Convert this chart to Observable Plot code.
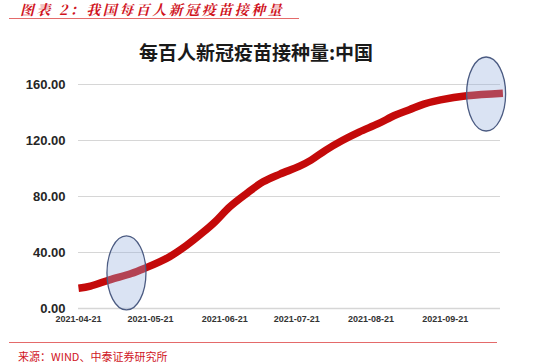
<!DOCTYPE html>
<html>
<head>
<meta charset="utf-8">
<script src="https://cdn.jsdelivr.net/npm/d3@7"></script>
<script src="https://cdn.jsdelivr.net/npm/@observablehq/plot@0.6"></script>
<style>
  html, body { margin: 0; padding: 0; background: #fff; }
  #wrap { position: relative; width: 540px; height: 363px; overflow: hidden; background: #fff; }
  #wrap svg { position: absolute; left: 0; top: 0; }
  .hdr { position: absolute; left: 20px; top: 2px; line-height: 15px; font-family: "Noto Serif CJK SC", "Noto Sans CJK SC", serif; font-style: italic; font-weight: bold; font-size: 14px; letter-spacing: 2.5px; color: #d0141e; white-space: nowrap; }
  .hline { position: absolute; left: 9px; top: 18px; width: 290px; height: 1px; background: #e46a6a; }
  .title { position: absolute; left: 0; width: 512px; top: 38px; text-align: center; font-family: "Noto Sans CJK SC", sans-serif; font-weight: bold; font-size: 19px; color: #1a1a1a; white-space: nowrap; }
  .fline { position: absolute; left: 9px; top: 342px; width: 488px; height: 1px; background: #e46a6a; }
  .src { position: absolute; left: 18px; top: 348px; font-family: "Noto Sans CJK SC", monospace; font-size: 11px; color: #d0141e; white-space: nowrap; }
</style>
</head>
<body>
<div id="wrap">
  <div class="hdr">图表 2：我国每百人新冠疫苗接种量</div>
  <div class="hline"></div>
  <div class="title">每百人新冠疫苗接种量:中国</div>
  <div class="fline"></div>
  <div class="src">来源：WIND、中泰证券研究所</div>
</div>
<script>
// Series: vaccine doses per hundred people, China
const dates = [
  "2021-04-21","2021-04-26","2021-05-04","2021-05-13","2021-05-19","2021-05-25",
  "2021-05-29","2021-06-05","2021-06-12","2021-06-17","2021-06-23","2021-06-30",
  "2021-07-07","2021-07-14","2021-07-22","2021-07-27","2021-08-02","2021-08-09",
  "2021-08-16","2021-08-24","2021-08-31","2021-09-06","2021-09-12","2021-09-19",
  "2021-09-30","2021-10-15"
];
const values = [
  14.5, 16.0, 20.5, 25.0, 29.0, 33.5,
  37.0, 45.0, 54.5, 62.0, 72.5, 82.0,
  90.5, 96.0, 101.5, 106.0, 113.0, 120.0,
  126.0, 132.0, 138.0, 142.0, 146.0, 149.0,
  152.0, 153.8
];
// x tick labels
const xTicks = ["2021-04-21","2021-05-21","2021-06-21","2021-07-21","2021-08-21","2021-09-21"];
// y ticks
const yTicks = [0, 40, 80, 120, 160];
// highlighted regions (annotation ellipses centres)
const markDates = ["2021-05-11", "2021-10-08"];
const markValues = [25.4, 153.2];

const parse = d3.utcParse("%Y-%m-%d");
const series = dates.map((d, i) => ({date: parse(d), value: values[i]}));
const marks = markDates.map((d, i) => ({date: parse(d), value: markValues[i]}));

const ellipse = {
  draw(ctx) {
    const rx = 19.5, ry = 37, k = 0.5523;
    ctx.moveTo(rx, 0);
    ctx.bezierCurveTo(rx, ry * k, rx * k, ry, 0, ry);
    ctx.bezierCurveTo(-rx * k, ry, -rx, ry * k, -rx, 0);
    ctx.bezierCurveTo(-rx, -ry * k, -rx * k, -ry, 0, -ry);
    ctx.bezierCurveTo(rx * k, -ry, rx, -ry * k, rx, 0);
    ctx.closePath();
  }
};

const plot = Plot.plot({
  width: 540,
  height: 363,
  marginTop: 84,
  marginBottom: 55,
  marginLeft: 78,
  marginRight: 40,
  style: {background: "transparent", fontFamily: "'Liberation Sans', Arial, sans-serif"},
  x: {type: "utc", domain: [parse("2021-04-21"), parse("2021-10-14")]},
  y: {domain: [0, 160]},
  marks: [
    Plot.gridY(yTicks, {stroke: "#d6d6d6", strokeOpacity: 1, strokeWidth: 1.2}),
    Plot.ruleY([0], {stroke: "#d6d6d6", strokeWidth: 1.5}),
    Plot.axisY(yTicks, {
      tickSize: 0, tickPadding: 13, tickFormat: d3.format(".2f"),
      fontSize: 13, fontWeight: "bold", fill: "#262626", label: null
    }),
    Plot.axisX(xTicks.map(parse), {
      tickSize: 0, tickPadding: 7, tickFormat: d3.utcFormat("%Y-%m-%d"),
      fontSize: 9, fontWeight: "bold", fill: "#333333", label: null
    }),
    Plot.line(series, {
      x: "date", y: "value", stroke: "#c40a0a", strokeWidth: 7.5,
      curve: "catmull-rom", strokeLinecap: "butt"
    }),
    Plot.dot(marks, {
      x: "date", y: "value", symbol: ellipse, r: 20,
      fill: "#95afdd", fillOpacity: 0.35, stroke: "#4b5b82", strokeWidth: 1.3
    })
  ]
});
document.getElementById("wrap").prepend(plot);
</script>
</body>
</html>
